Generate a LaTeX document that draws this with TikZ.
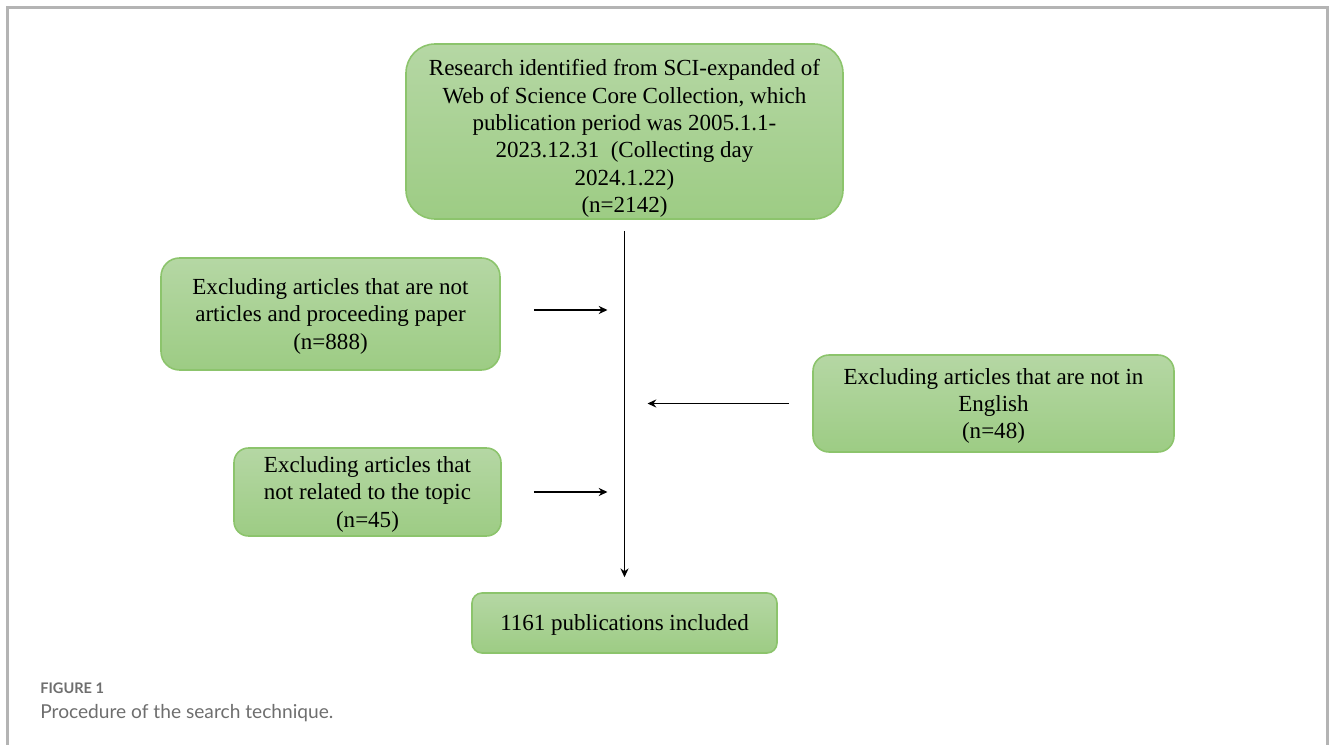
\documentclass[tikz,border=0pt]{standalone}
\usepackage{fontspec}
\setmainfont{Liberation Serif}
\newfontfamily\capfont{Lato}
\usepackage{tikz}
\usetikzlibrary{arrows.meta,positioning,calc}

\definecolor{boxtop}{HTML}{B5D7A4}
\definecolor{boxbot}{HTML}{9DCC84}
\definecolor{boxline}{HTML}{8CC46C}
\definecolor{framegray}{HTML}{B4B4B4}
\definecolor{capgray}{HTML}{6E6E6E}

\tikzset{
    stagebox/.style={draw=boxline, line width=0.9pt, top color=boxtop, bottom color=boxbot,
        align=center, inner sep=0pt, text depth=-0.4pt, font=\fontsize{13.1pt}{15.6pt}\selectfont},
    flow/.style={line width=1.1pt, -{Stealth[length=5pt,width=4.6pt]}}
}

\begin{document}
\begin{tikzpicture}

    % --- frame and bounding box ---
                \useasboundingbox (0,0) rectangle (26.6,-14.9);
                \draw[framegray, line width=1.3pt] (0.15,-14.95) -- (0.15,-0.15) -- (26.55,-0.15) -- (26.55,-14.95);

    % --- boxes ---
                \node[stagebox, minimum width=8.74cm, minimum height=3.5cm, rounded corners=0.58cm, text depth=-5pt] (src) at (12.49,-2.63)
                    {\rule{0pt}{14.5pt}Research identified from SCI-expanded of\\Web of Science Core Collection, which\\publication period was 2005.1.1-\\2023.12.31\ \ (Collecting day\\2024.1.22)\\(n=2142)};
                \node[stagebox, minimum width=6.78cm, minimum height=2.24cm, rounded corners=0.37cm] (exType) at (6.61,-6.28)
                    {Excluding articles that are not\\articles and proceeding paper\\(n=888)};
                \node[stagebox, minimum width=7.22cm, minimum height=1.94cm, rounded corners=0.32cm] (exLang) at (19.87,-8.07)
                    {Excluding articles that are not in\\English\\(n=48)};
                \node[stagebox, minimum width=5.34cm, minimum height=1.76cm, rounded corners=0.29cm] (exTopic) at (7.35,-9.84)
                    {Excluding articles that\\not related to the topic\\(n=45)};
                \node[stagebox, minimum width=6.1cm, minimum height=1.2cm, rounded corners=0.2cm] (incl) at (12.49,-12.46)
                    {1161 publications included};

    % --- arrows ---
                \draw[flow, shorten <=0.22cm, shorten >=0.3cm] (src) -- (incl);
                \draw[flow, shorten <=0.66cm, shorten >=0.34cm] ([yshift=0.08cm]exType.east) -- ([yshift=0.08cm]exType.east -| src);
                \draw[flow, shorten <=0.46cm, shorten >=0.46cm] (exLang.west) -- (exLang.west -| src);
                \draw[flow, shorten <=0.64cm, shorten >=0.34cm] (exTopic.east) -- (exTopic.east -| src);

    % --- caption ---
                \node[anchor=base west, inner sep=0pt, text=capgray, font=\capfont\bfseries\fontsize{8.3pt}{10pt}\selectfont] (capTitle) at (0.8,-13.86) {FIGURE 1};
                \node[anchor=base west, inner sep=0pt, text=capgray, font=\capfont\fontsize{10.9pt}{13pt}\selectfont] (capText) at (0.8,-14.37) {Procedure of the search technique.};

            \end{tikzpicture}
\end{document}
